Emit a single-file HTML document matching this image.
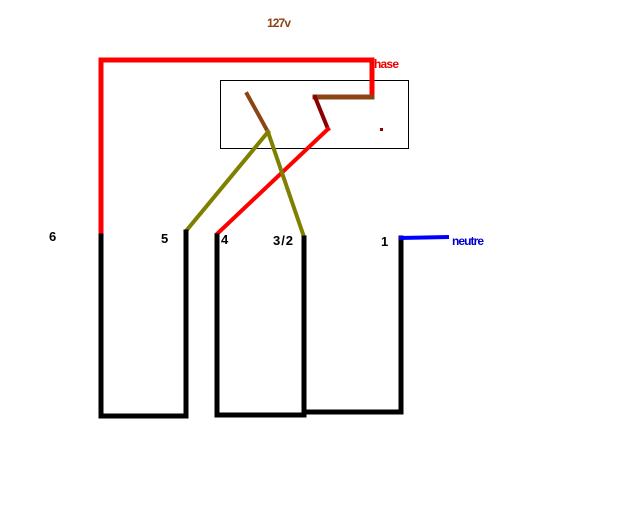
<!DOCTYPE html>
<html><head><style>body{margin:0;background:#fff}</style></head><body>
<svg width="640" height="512" xmlns="http://www.w3.org/2000/svg" style="display:block">
<rect width="640" height="512" fill="#fff"/>
<rect x="220.5" y="80.5" width="188" height="68" fill="none" stroke="#000" stroke-width="1"/>
<g fill="none" stroke-linecap="square" stroke-linejoin="miter">
<polyline points="101,235 101,60 372,60 372,97" stroke="#f00" stroke-width="5"/>
<polyline points="372,97 315,97" stroke="#8b4513" stroke-width="5"/>
<polyline points="315,97 328,129" stroke="#8b0000" stroke-width="4"/>
<line x1="328" y1="129" x2="217" y2="234" stroke="#f00" stroke-width="4"/>
<line x1="247" y1="94" x2="268" y2="132" stroke="#8b4513" stroke-width="4"/>
<line x1="268" y1="132" x2="186" y2="231" stroke="#808000" stroke-width="4"/>
<line x1="268" y1="132" x2="304" y2="237" stroke="#808000" stroke-width="4"/>
<polyline points="101,236 101,416 186,416 186,232" stroke="#000" stroke-width="5"/>
<polyline points="217,236 217,415 304,415 304,238" stroke="#000" stroke-width="5"/>
<polyline points="304,412 401,412 401,238" stroke="#000" stroke-width="5"/>
<polyline points="401,238 447,237" stroke="#00f" stroke-width="4"/>
</g>
<rect x="380" y="128" width="3" height="3" fill="#8b0000"/>
<g font-family="Liberation Sans, sans-serif" font-weight="bold" font-size="13">
<text x="267" y="27" fill="#8b4513" font-size="12" textLength="24">127v</text>
<text x="374" y="68" fill="#e00" font-size="12" textLength="25">hase</text>
<text x="49" y="241" fill="#000">6</text>
<text x="161" y="243" fill="#000">5</text>
<text x="221" y="244" fill="#000">4</text>
<text x="273" y="245" fill="#000" textLength="20">3/2</text>
<text x="381" y="246" fill="#000">1</text>
<text x="452" y="245" fill="#00c" font-size="12" textLength="32">neutre</text>
</g>
</svg>
</body></html>
